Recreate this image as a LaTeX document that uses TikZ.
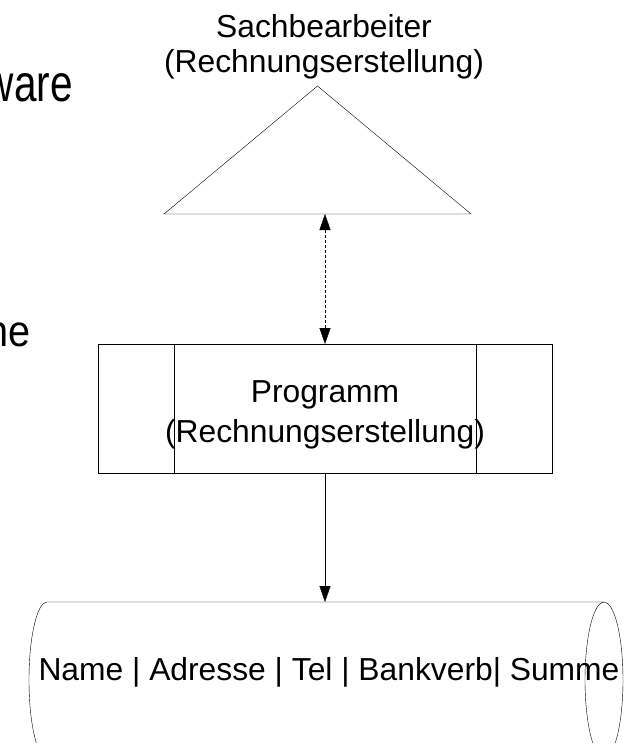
\documentclass[tikz,border=0pt]{standalone}
\usepackage{fontspec}
\setsansfont{Liberation Sans}
\usetikzlibrary{
  arrows.meta,
  shapes.geometric, % Shape "isosceles triangle"
}
\newcommand{\rstext}{(Rechnungserstellung)}
\tikzset{
  font=\sffamily,
  line width=1.4pt,
  >={Triangle[length=16pt,width=11pt]},
  my big/.style={
    font=\sffamily\fontsize{31.8}{35}\selectfont,
    inner sep=0pt,
    align=center
  },
  my slide/.style={
    font=\sffamily\fontsize{52}{60}\selectfont,
    inner sep=0pt,
    anchor=base east
  },
  my actor/.style={
    draw,
    isosceles triangle,
    isosceles triangle stretches,
    shape border rotate=90,
    minimum width=307pt,
    minimum height=128pt,
    inner sep=0pt,
    outer sep=0pt
  },
  my process/.style={
    draw,
    rectangle,
    minimum height=129pt,
    inner sep=0pt,
    outer sep=0pt
  },
  data flow/.style={
    <->,
    dash pattern=on 3pt off 2pt
  }
}

\begin{document}
\begin{tikzpicture}[x=1pt,y=1pt]
\clip (0,0) rectangle (637,-743);
% cut-off slide text on the left
\node[my slide] (sw) at (73,-102) {\scalebox{0.78}[1]{ware}};
\node[my slide,font=\sffamily\fontsize{44}{50}\selectfont] (sm) at (31,-346) {\scalebox{0.9}[1]{ne}};
% actor
\node[my actor,anchor=lower side] (sb) at (317.5,-214) {};
\node[my big,anchor=north] (sblabel) at (324,-14.2) {Sachbearbeiter\\\rstext};
% program
\node[my process,minimum width=454pt] (prog) at (325,-408.5) {};
\node[my process,minimum width=302pt] (progmid) at (prog.center) {};
\node[my big,anchor=north,font=\sffamily\fontsize{31.8}{40}\selectfont] (progtext) at (325,-380) {Programm\\\rstext};
% data store (cylinder on its side)
\coordinate (dbtop) at (325,-602);
\draw (47,-602) -- (604,-602)
      (47,-602) arc[start angle=90,end angle=270,x radius=18pt,y radius=78pt] -- (604,-758)
      (604,-680) ellipse[x radius=19pt,y radius=78pt];
\node[my big,anchor=base] (dbtext) at (329,-680) {Name | Adresse | Tel | Bankverb| Summe};
\draw[data flow] (prog.north) -- (prog.north |- sb.lower side);
\draw[->] (prog.south) -- (dbtop);
\end{tikzpicture}
\end{document}
